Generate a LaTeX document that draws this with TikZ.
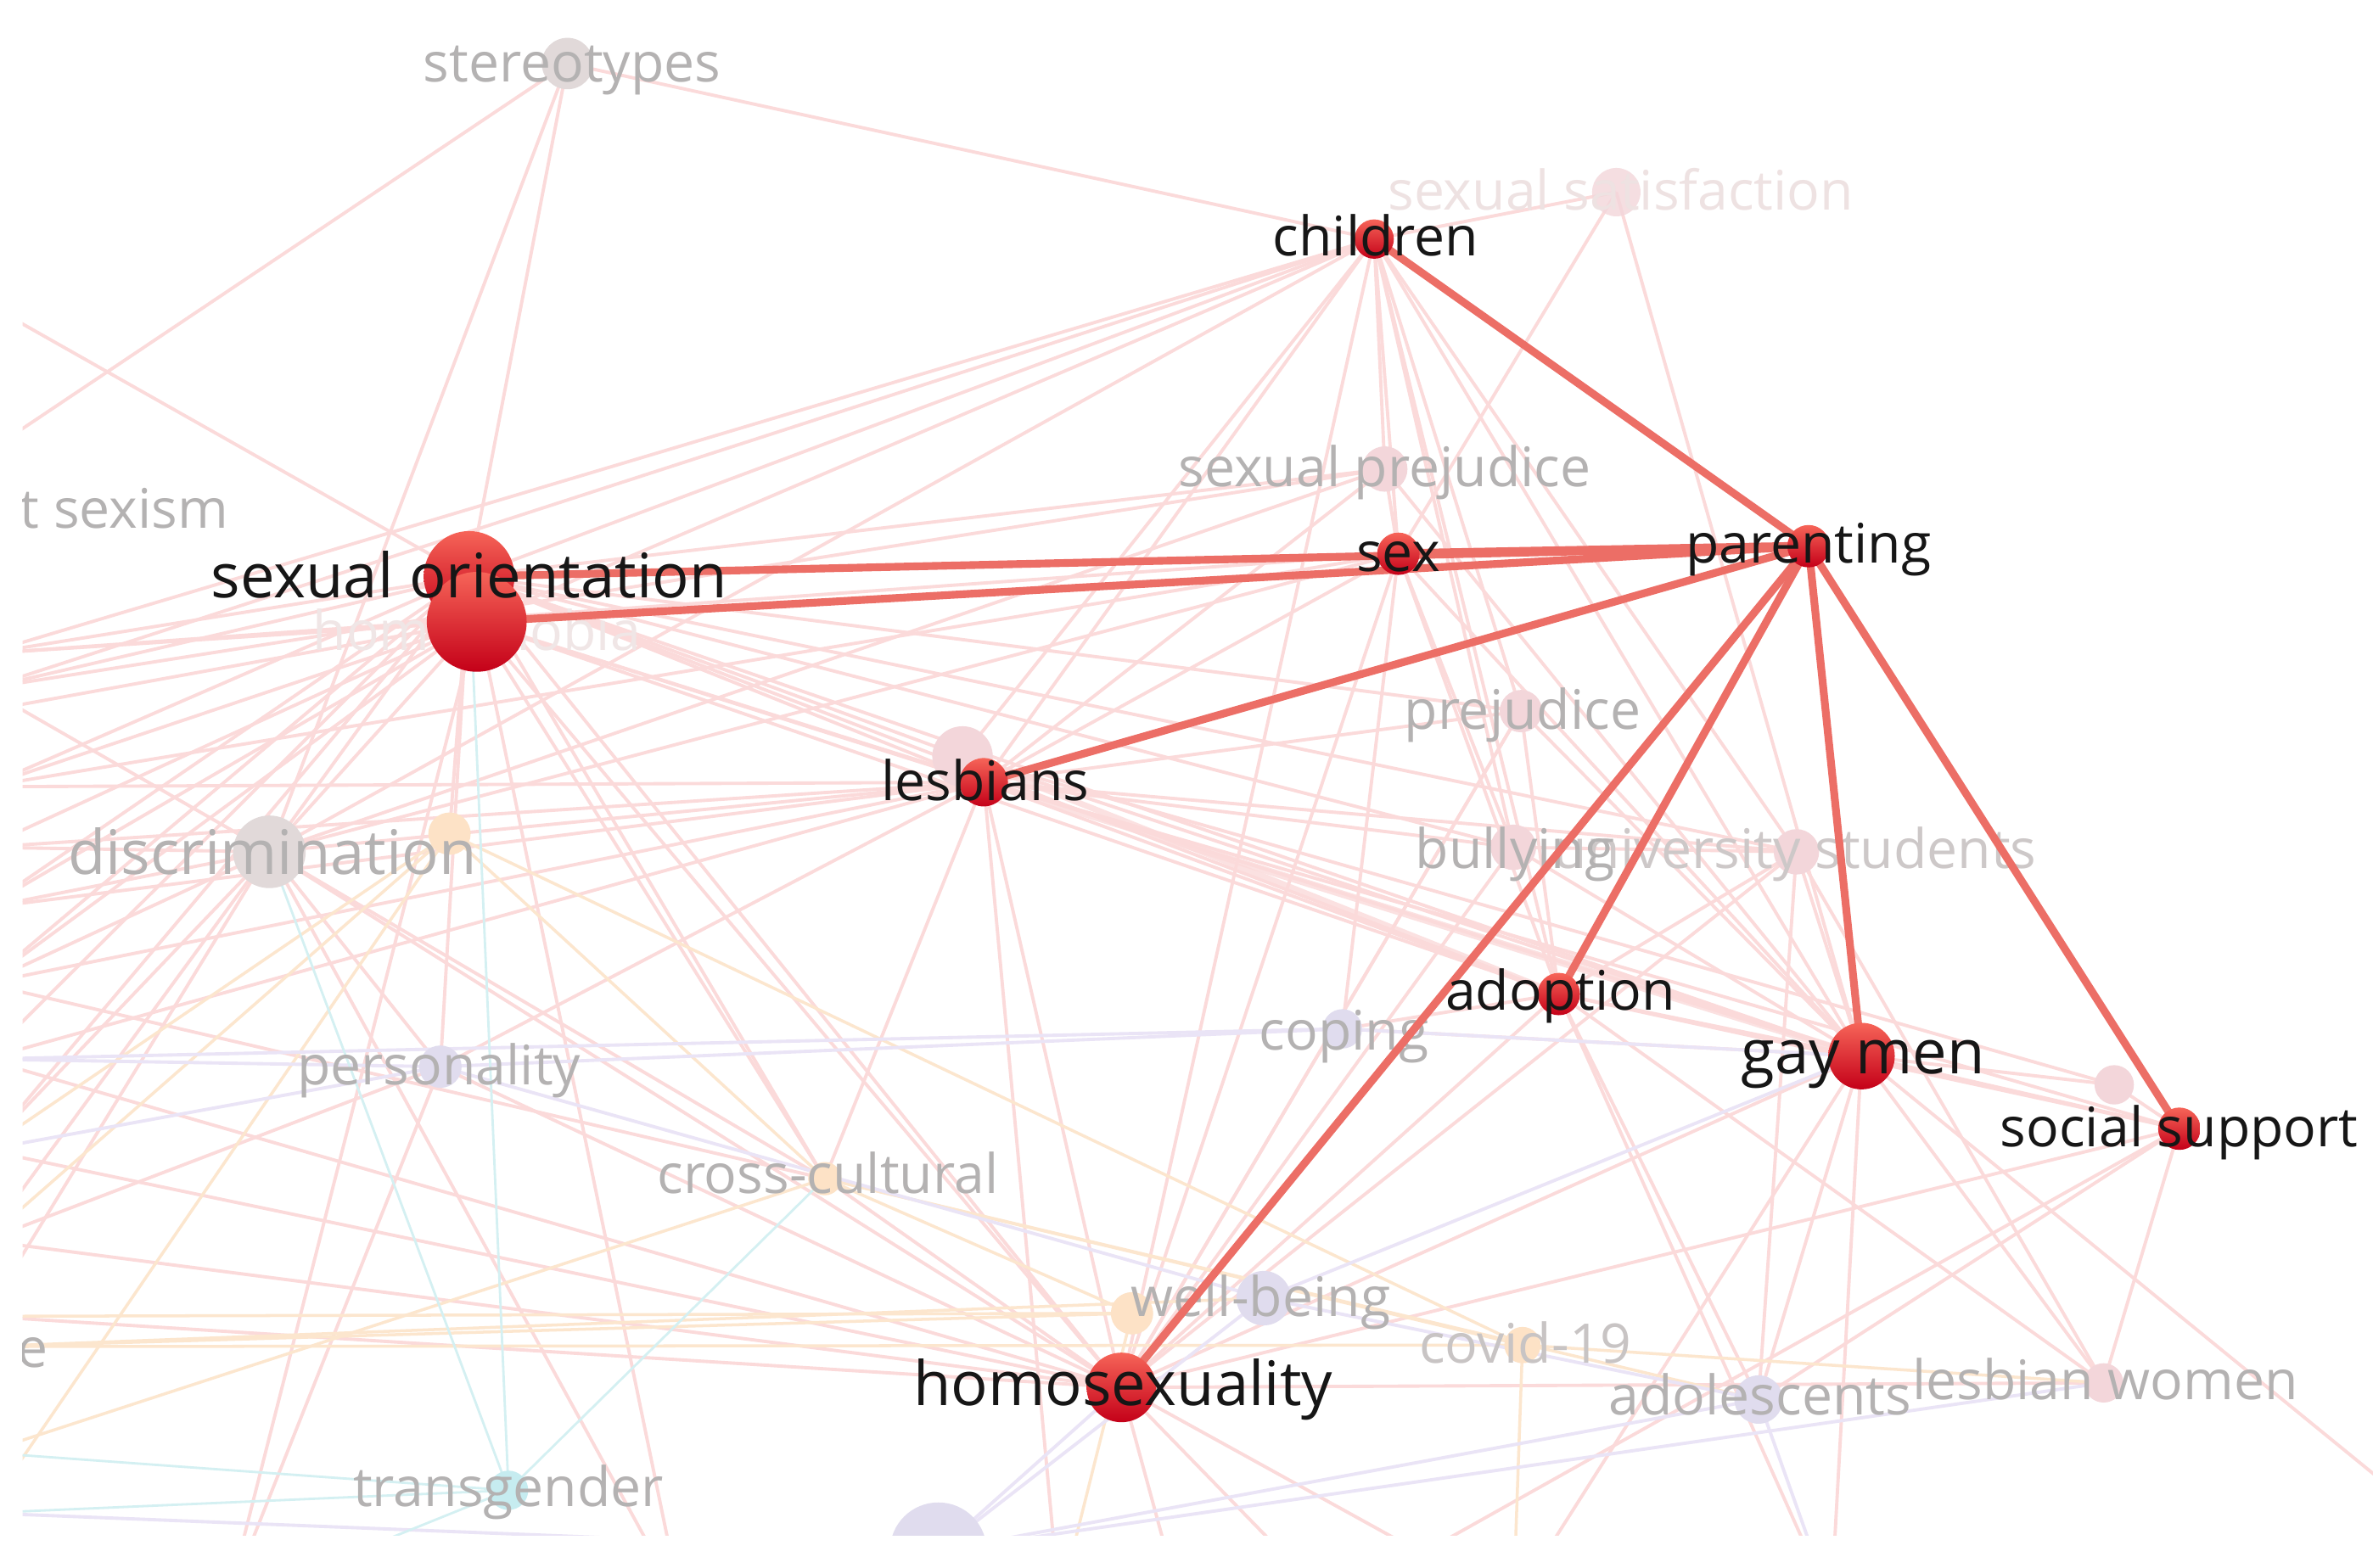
\documentclass[tikz,border=0pt]{standalone}
\usepackage{fontspec}
\setmainfont{Open Sans}
\definecolor{hlred}{RGB}{236,110,102}
\definecolor{ntop}{RGB}{246,100,88}
\definecolor{nbot}{RGB}{196,0,24}
\definecolor{epink}{RGB}{251,218,218}
\definecolor{eorange}{RGB}{252,230,206}
\definecolor{elav}{RGB}{234,228,246}
\definecolor{ecyan}{RGB}{212,240,242}
\definecolor{fgray}{RGB}{180,178,178}
\definecolor{npink}{RGB}{243,214,218}
\definecolor{ngray}{RGB}{225,217,217}
\definecolor{nlav}{RGB}{224,220,238}
\definecolor{norange}{RGB}{253,226,198}
\definecolor{ncyan}{RGB}{198,236,240}
\definecolor{blk}{RGB}{22,22,22}
\newcommand\kwN{\fontsize{18.3pt}{20pt}\selectfont}
\newcommand\kwB{\fontsize{20.6pt}{22pt}\selectfont}
\begin{document}
\begin{tikzpicture}[x=0.01783cm,y=0.01783cm,
  fe/.style={draw=epink, line width=1.1pt},
  feo/.style={draw=eorange, line width=1pt},
  fel/.style={draw=elav, line width=1.1pt},
  fec/.style={draw=ecyan, line width=0.8pt},
  hl/.style={draw=hlred, line width=2.6pt},
  dot/.style={circle, inner sep=0pt, minimum size=#1*0.03566cm},
  rdot/.style={dot=#1, top color=ntop, bottom color=nbot, draw=none},
  fdot/.style={dot=#1, draw=none},
  lab/.style={inner sep=0pt, text height=0.72em, text depth=0.2em, yshift=-0.12cm},
  flab/.style={lab, text=fgray, font=\kwN},
  blab/.style={lab, text=blk, font=\kwN}]
\useasboundingbox (0,0) rectangle (1568,-1036);
\fill[white] (0,0) rectangle (1568,-1036);
\begin{scope}
\clip (15,0) rectangle (1568,-1015);
% coordinates
\coordinate (so) at (310,-381);
\coordinate (homo) at (315,-411);
\coordinate (child) at (908,-158);
\coordinate (sex) at (924,-366);
\coordinate (par) at (1195,-361);
\coordinate (lesb) at (650,-517);
\coordinate (lesbp) at (636,-500);
\coordinate (adop) at (1030,-657);
\coordinate (gay) at (1230,-698);
\coordinate (soc) at (1440,-746);
\coordinate (hsx) at (741,-917);
\coordinate (ster) at (375,-42);
\coordinate (ssat) at (1068,-127);
\coordinate (sprej) at (915,-310);
\coordinate (prej) at (1005,-470);
\coordinate (bull) at (1000,-560);
\coordinate (univ) at (1187,-563);
\coordinate (cop) at (887,-680);
\coordinate (pers) at (291,-705);
\coordinate (disc) at (178,-563);
\coordinate (orA) at (297,-551);
\coordinate (cross) at (545,-779);
\coordinate (well) at (835,-858);
\coordinate (orB) at (748,-868);
\coordinate (covid) at (1006,-889);
\coordinate (adol) at (1162,-925);
\coordinate (lw) at (1390,-914);
\coordinate (trans) at (336,-985);
\coordinate (pkB) at (1397,-717);
\coordinate (bl) at (620,-1025);
% off-canvas ends
\coordinate (lA) at (-10,-300);
\coordinate (lB) at (-10,-200);
\coordinate (lC) at (-10,-432);
\coordinate (lD) at (-10,-455);
\coordinate (lE) at (-10,-520);
\coordinate (lF) at (-10,-600);
\coordinate (lG) at (-10,-650);
\coordinate (lH) at (-10,-700);
\coordinate (lI) at (-10,-760);
\coordinate (lJ) at (-10,-820);
\coordinate (lK) at (-10,-870);
\coordinate (lL) at (-10,-890);
\coordinate (lM) at (-10,-960);
\coordinate (lN) at (-10,-1000);
\coordinate (lO) at (-10,-560);
\coordinate (lP) at (-10,-470);
\coordinate (bA) at (450,-1060);
\coordinate (bB) at (880,-1060);
\coordinate (bC) at (1000,-1060);
\coordinate (bD) at (1210,-1060);
\coordinate (bE) at (700,-1060);
\coordinate (bF) at (150,-1060);
\coordinate (bG) at (780,-1060);
\coordinate (rA) at (1600,-1000);
% faded links
\foreach \a/\b in {so/ster,so/child,so/sprej,so/lesb,so/lesbp,so/prej,so/bull,so/adop,so/gay,so/univ,so/hsx,so/disc,so/pers,so/orA,so/cross,so/lB,so/lC,so/lD,so/lE,so/lF,so/bA,so/lG,so/lH,so/lI,
  homo/child,homo/lesb,homo/gay,homo/adop,homo/hsx,homo/disc,homo/lC,homo/lP,homo/lG,homo/cross,homo/bF,homo/lF,homo/lO,homo/lE,
  ster/lA,ster/disc,ster/child,
  child/lesb,child/lesbp,child/sprej,child/sex,child/prej,child/adop,child/gay,child/ssat,child/hsx,child/disc,child/univ,child/bull,child/lC,child/lD,
  ssat/gay,ssat/sex,
  sex/lesb,sex/hsx,sex/gay,sex/adop,sex/disc,sex/sprej,sex/bull,sex/cop,sex/lC,sex/lE,
  sprej/lesb,sprej/disc,sprej/gay,sprej/lD,
  lesb/adop,lesb/hsx,lesb/disc,lesb/bull,lesb/univ,lesb/soc,lesb/pers,lesb/cross,lesb/lE,lesb/lH,lesb/bE,lesb/lF,lesb/lG,lesb/lO,
  lesbp/gay,lesbp/pkB,
  prej/lesb,prej/gay,prej/hsx,prej/adop,
  bull/gay,bull/hsx,bull/univ,
  univ/hsx,univ/gay,univ/adol,univ/adop,univ/lw,
  hsx/gay,hsx/adop,hsx/soc,hsx/lw,hsx/cross,hsx/disc,hsx/prej,hsx/lK,hsx/lJ,hsx/bB,hsx/bC,hsx/bG,hsx/pers,hsx/lH,hsx/lI,
  gay/adop,gay/soc,gay/pkB,gay/lw,gay/adol,gay/cop,gay/bD,gay/bC,gay/rA,
  soc/lw,soc/adol,soc/bB,soc/adop,soc/pkB,
  adop/lw,adop/adol,adop/cop,adop/bD,
  disc/pers,disc/lF,disc/lG,disc/lI,disc/lO,disc/cross,disc/bA,disc/lD,disc/lJ,disc/lK,
  pers/lJ,pers/bF,cross/lG}
  \draw[fe] (\a) -- (\b);
\draw[fe, line width=2.4pt, opacity=0.8] (lesb) -- (gay);
\draw[fe, line width=2pt, opacity=0.8] (lesbp) -- (adop);
\foreach \a/\b in {orA/covid,orB/lL,orB/lK,covid/lL,cross/lM,cross/covid,orA/lI,orA/cross,cross/adol,orB/cross,orA/lN,well/lL,covid/bC,covid/lw,orB/bE,orA/lJ}
  \draw[feo] (\a) -- (\b);
\foreach \a/\b in {pers/cop,cop/lH,well/adol,adol/bl,bl/lN,pers/well,well/bl,hsx/bl,adol/bD,pers/lI,cop/gay,well/gay,pers/lH,bl/lw}
  \draw[fel] (\a) -- (\b);
\foreach \a/\b in {trans/lN,trans/disc,trans/so,trans/bF,trans/lM,trans/cross}
  \draw[fec] (\a) -- (\b);
% faded nodes
\node[fdot=17, fill=ngray] (n-ster) at (ster) {};
\node[fdot=16, fill=npink, opacity=0.8] (n-ssat) at (ssat) {};
\node[fdot=15, fill=npink] (n-sprej) at (sprej) {};
\node[fdot=14, fill=npink] (n-prej) at (prej) {};
\node[fdot=15, fill=npink] (n-bull) at (bull) {};
\node[fdot=15, fill=npink] (n-univ) at (univ) {};
\node[fdot=13, fill=nlav] (n-cop) at (cop) {};
\node[fdot=14, fill=nlav] (n-pers) at (pers) {};
\node[fdot=24, fill=ngray] (n-disc) at (disc) {};
\node[fdot=14, fill=norange] (n-orA) at (orA) {};
\node[fdot=11, fill=norange] (n-cross) at (cross) {};
\node[fdot=18, fill=nlav] (n-well) at (well) {};
\node[fdot=14, fill=norange] (n-orB) at (orB) {};
\node[fdot=12, fill=norange] (n-covid) at (covid) {};
\node[fdot=16, fill=nlav] (n-adol) at (adol) {};
\node[fdot=13, fill=npink] (n-lw) at (lw) {};
\node[fdot=13, fill=ncyan] (n-trans) at (trans) {};
\node[fdot=13, fill=npink] (n-pkB) at (pkB) {};
\node[fdot=32, fill=nlav] (n-bl) at (bl) {};
\node[fdot=20, fill=npink] (n-lesbp) at (lesbp) {};
% faded labels
\node[flab, text={rgb,255:red,240;green,230;blue,230}] (t-homo) at (315,-418) {homophobia};
\node[flab] (t-ster) at (378,-42) {stereotypes};
\node[flab, text={rgb,255:red,238;green,226;blue,226}] (t-ssat) at (1071,-127) {sexual satisfaction};
\node[flab] (t-sprej) at (915,-310) {sexual prejudice};
\node[flab] (t-prej) at (1006,-470) {prejudice};
\node[flab, text={rgb,255:red,205;green,200;blue,200}] (t-univ) at (1186,-562) {university students};
\node[flab] (t-bull) at (1001,-562) {bullying};
\node[flab] (t-cop) at (888,-682) {coping};
\node[flab] (t-pers) at (290,-705) {personality};
\node[flab, font=\kwB] (t-disc) at (180,-566) {discrimination};
\node[flab] (t-cross) at (547,-777) {cross-cultural};
\node[flab] (t-well) at (833,-858) {well-being};
\node[flab, text={rgb,255:red,200;green,196;blue,196}] (t-covid) at (1008,-889) {covid-19};
\node[flab] (t-adol) at (1163,-923) {adolescents};
\node[flab] (t-lw) at (1391,-913) {lesbian women};
\node[flab] (t-trans) at (336,-984) {transgender};
\node[flab, anchor=west] (t-sexism) at (13,-337) {t sexism};
\node[flab, anchor=west] (t-e) at (11,-892) {e};
% highlighted links
\draw[hl] (par) -- (child);
\draw[hl] (par) -- (so);
\draw[hl] (par) -- (homo);
\draw[hl, line width=3pt] (par) -- (sex);
\draw[hl] (par) -- (lesb);
\draw[hl] (par) -- (adop);
\draw[hl] (par) -- (hsx);
\draw[hl] (par) -- (gay);
\draw[hl] (par) -- (soc);
% red nodes
\node[rdot=30] (n-so) at (so) {};
\node[rdot=33] (n-homo) at (homo) {};
\node[rdot=13] (n-child) at (child) {};
\node[rdot=14] (n-sex) at (sex) {};
\node[rdot=14] (n-par) at (par) {};
\node[rdot=16] (n-lesb) at (lesb) {};
\node[rdot=14] (n-adop) at (adop) {};
\node[rdot=22] (n-gay) at (gay) {};
\node[rdot=14] (n-soc) at (soc) {};
\node[rdot=23] (n-hsx) at (hsx) {};
% black labels
\node[blab, font=\kwB] (t-so) at (310,-383) {sexual orientation};
\node[blab] (t-child) at (909,-157) {children};
\node[blab] (t-sex) at (924,-366) {sex};
\node[blab] (t-par) at (1195,-360) {parenting};
\node[blab] (t-lesb) at (651,-517) {lesbians};
\node[blab] (t-adop) at (1031,-656) {adoption};
\node[blab, font=\kwB] (t-gay) at (1231,-698) {gay men};
\node[blab] (t-soc) at (1440,-746) {social support};
\node[blab, font=\kwB] (t-hsx) at (742,-917) {homosexuality};
\end{scope}
\end{tikzpicture}
\end{document}
